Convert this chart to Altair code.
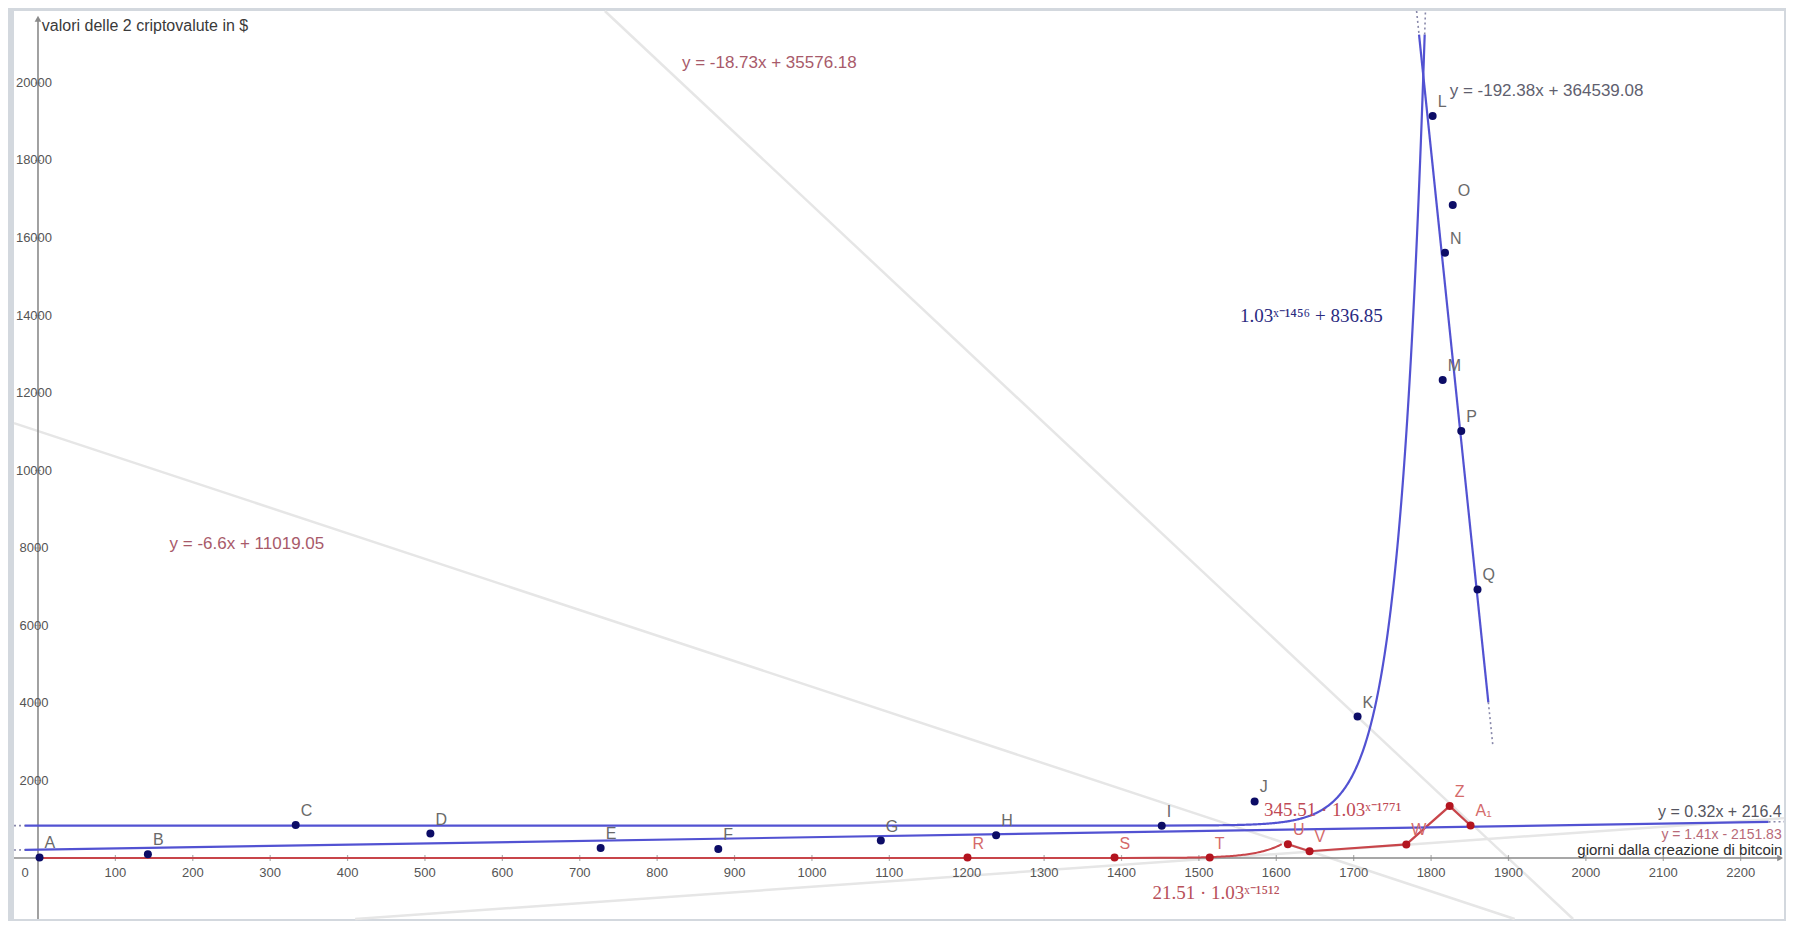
import altair as alt
import numpy as np
import pandas as pd

# ---------------- data ----------------
blue_names = ["A", "B", "C", "D", "E", "F", "G", "H", "I", "J", "K", "L", "M", "N", "O", "P", "Q"]
blue_x = [2, 142, 333, 507, 727, 879, 1089, 1238, 1452, 1572, 1705, 1802, 1815, 1818, 1828, 1839, 1860]
blue_y = [15, 100, 850, 630, 260, 235, 450, 590, 835, 1460, 3650, 19150, 12335, 15620, 16850, 11020, 6930]

red_names = ["R", "S", "T", "U", "V", "W", "Z", "A₁"]
red_x = [1201, 1391, 1514, 1615, 1643, 1768, 1824, 1851]
red_y = [10, 10, 10, 355, 175, 350, 1340, 840]

# regression lines as printed on the chart (slope, intercept)
faint_slope = [-18.73, -6.6, 1.41]
faint_icept = [35576.18, 11019.05, -2151.83]
blue_slope = [0.32, -192.38]
blue_icept = [216.4, 364539.08]
# exponential curves as printed: a * b^(x-h) + k
exp_blue = [1.0, 1.03, 1456, 836.85]
exp_red = [21.51, 1.03, 1512, 0.0]

x_ticks = list(range(100, 2300, 100))
y_ticks = list(range(2000, 22000, 2000))

eq_text = ["y = -18.73x + 35576.18", "y = -6.6x + 11019.05", "y = -192.38x + 364539.08",
           "y = 0.32x + 216.4", "y = 1.41x - 2151.83"]
eq_x = [832, 170, 1824, 2253, 2253]
eq_y = [20516, 8103, 19794, 1190, 600]
eq_align = ["left", "left", "left", "right", "right"]
eq_size = [17, 17, 17, 16, 14]
eq_color = ["#a85a6a", "#a85a6a", "#5f5f6f", "#555560", "#b86a78"]

tex_text = ["1.03ˣ⁻¹⁴⁵⁶ + 836.85", "345.51 · 1.03ˣ⁻¹⁷⁷¹", "21.51 · 1.03ˣ⁻¹⁵¹²"]
tex_x = [1553, 1584, 1440]
tex_y = [13987, 1230, -895]
tex_color = ["#2a2a80", "#c04a55", "#b8505a"]

y_title = "valori delle 2 criptovalute in $"
x_title = "giorni dalla creazione di bitcoin"

# ---------------- view ----------------
X_MIN, X_MAX = -31, 2256
Y_MIN, Y_MAX = -1574, 21858
W, H = 1770, 908
xs = alt.Scale(domain=[X_MIN, X_MAX], nice=False, zero=False)
ys = alt.Scale(domain=[Y_MIN, Y_MAX], nice=False, zero=False)


def X(f="x"):
    return alt.X(f"{f}:Q", scale=xs, axis=None)


def Y(f="y"):
    return alt.Y(f"{f}:Q", scale=ys, axis=None)


def clip_line(m, q, x0=X_MIN, x1=X_MAX):
    pts = []
    for xv in (x0, x1):
        yv = m * xv + q
        if Y_MIN <= yv <= Y_MAX:
            pts.append((xv, yv))
    for yv in (Y_MIN, Y_MAX):
        xv = (yv - q) / m
        if x0 <= xv <= x1:
            pts.append((xv, yv))
    pts = sorted(pts)
    return pts[0], pts[-1]


rows = []
for m, q in zip(faint_slope, faint_icept):
    (a, b), (c, d) = clip_line(m, q)
    rows.append(dict(x=a, y=b, x2=c, y2=d))
faint_df = pd.DataFrame(rows)

m0, q0 = blue_slope[0], blue_icept[0]
m1, q1 = blue_slope[1], blue_icept[1]
y_dot = 21250
x_top1 = (Y_MAX - q1) / m1
x_dot1 = (y_dot - q1) / m1
blue_solid = pd.DataFrame([
    dict(x=-17, y=m0 * -17 + q0, x2=2236, y2=m0 * 2236 + q0),
    dict(x=x_dot1, y=y_dot, x2=1874, y2=m1 * 1874 + q1),
])
blue_dotted = pd.DataFrame([
    dict(x=X_MIN, y=m0 * X_MIN + q0, x2=-17, y2=m0 * -17 + q0),
    dict(x=2236, y=m0 * 2236 + q0, x2=X_MAX, y2=m0 * X_MAX + q0),
    dict(x=x_top1, y=Y_MAX, x2=x_dot1, y2=y_dot),
    dict(x=1874, y=m1 * 1874 + q1, x2=1880, y2=m1 * 1880 + q1),
])

a, b, h, k = exp_blue
x_dotb = h + np.log((y_dot - k) / a) / np.log(b)
x_topb = h + np.log((Y_MAX - k) / a) / np.log(b)
xb = np.concatenate([np.linspace(-17, 1500, 30), np.linspace(1500, x_dotb, 300)])
exp_b_df = pd.DataFrame(dict(x=xb, y=a * b ** (xb - h) + k, o=np.arange(len(xb))))
exp_b_dot = pd.DataFrame([dict(x=x_dotb, y=y_dot, x2=x_topb, y2=Y_MAX),
                          dict(x=X_MIN, y=k, x2=-17, y2=k)])

a, b, h, k = exp_red
xr = np.concatenate([np.linspace(0, 1450, 30), np.linspace(1450, 1607, 80)])
exp_r_df = pd.DataFrame(dict(x=xr, y=a * b ** (xr - h) + k, o=np.arange(len(xr))))

blue_df = pd.DataFrame(dict(name=blue_names, x=blue_x, y=blue_y))
red_df = pd.DataFrame(dict(name=red_names, x=red_x, y=red_y, o=range(len(red_x))))
red_poly = red_df[red_df["name"].isin(["U", "V", "W", "Z", "A₁"])]

# ---------------- layers ----------------
AXC = "#8a8a8a"
SANS = "Liberation Sans"

faint = alt.Chart(faint_df).mark_rule(color="#e6e6e6", strokeWidth=2.5).encode(
    x=X(), y=Y(), x2="x2:Q", y2="y2:Q")

axes = alt.Chart(pd.DataFrame([
    dict(x=X_MIN, y=0, x2=X_MAX - 4, y2=0),
    dict(x=0, y=Y_MIN, x2=0, y2=Y_MAX - 200),
])).mark_rule(color=AXC, strokeWidth=1.6).encode(x=X(), y=Y(), x2="x2:Q", y2="y2:Q")

arrows = alt.Chart(pd.DataFrame([
    dict(x=X_MAX - 5, y=0, s="triangle-right"),
    dict(x=0, y=Y_MAX - 200, s="triangle-up"),
])).mark_point(filled=True, color=AXC, size=45, opacity=1).encode(
    x=X(), y=Y(), shape=alt.Shape("s:N", scale=None))

xtk = alt.Chart(pd.DataFrame(dict(x=x_ticks, y=0))).mark_tick(
    orient="vertical", size=6, thickness=1.2, color=AXC).encode(x=X(), y=Y())
ytk = alt.Chart(pd.DataFrame(dict(x=0, y=y_ticks))).mark_tick(
    orient="horizontal", size=6, thickness=1.2, color=AXC).encode(x=X(), y=Y())

xlab = alt.Chart(pd.DataFrame(dict(x=x_ticks, y=0, t=[str(v) for v in x_ticks]))).mark_text(
    font=SANS, fontSize=13, color="#555", dy=15, baseline="middle").encode(
    x=X(), y=Y(), text="t:N")
ylab = alt.Chart(pd.DataFrame(dict(x=0, y=y_ticks, t=[str(v) for v in y_ticks]))).mark_text(
    font=SANS, fontSize=13, color="#555", dx=-4, baseline="middle").encode(
    x=X(), y=Y(), text="t:N")
zlab = alt.Chart(pd.DataFrame(dict(x=[0], y=[0], t=["0"]))).mark_text(
    font=SANS, fontSize=13, color="#555", dx=-13, dy=15, baseline="middle").encode(
    x=X(), y=Y(), text="t:N")

ytitle = alt.Chart(pd.DataFrame(dict(x=[5], y=[21470], t=[y_title]))).mark_text(
    font=SANS, fontSize=16, baseline="middle", align="left", color="#3a3a3a").encode(
    x=X(), y=Y(), text="t:N")
xtitle = alt.Chart(pd.DataFrame(dict(x=[X_MAX - 2], y=[215], t=[x_title]))).mark_text(
    font=SANS, fontSize=15, baseline="middle", align="right", color="#2e2e2e").encode(
    x=X(), y=Y(), text="t:N")

red_exp = alt.Chart(exp_r_df).mark_line(color="#c8454a", strokeWidth=2).encode(
    x=X(), y=Y(), order="o:Q")
red_line = alt.Chart(red_poly).mark_line(color="#c8454a", strokeWidth=2.2).encode(
    x=X(), y=Y(), order="o:Q")

BL = "#5252d2"
blue_exp = alt.Chart(exp_b_df).mark_line(color=BL, strokeWidth=2.2).encode(
    x=X(), y=Y(), order="o:Q")
blue_lines = alt.Chart(blue_solid).mark_rule(color=BL, strokeWidth=2.2).encode(
    x=X(), y=Y(), x2="x2:Q", y2="y2:Q")
dots = alt.Chart(pd.concat([blue_dotted, exp_b_dot])).mark_rule(
    color="#8888aa", strokeWidth=1.6, strokeDash=[2, 3]).encode(
    x=X(), y=Y(), x2="x2:Q", y2="y2:Q")

bpts = alt.Chart(blue_df).mark_circle(color="#0c0c66", size=64, opacity=1).encode(x=X(), y=Y())
rpts = alt.Chart(red_df).mark_circle(color="#b3141f", size=64, opacity=1).encode(x=X(), y=Y())
blab = alt.Chart(blue_df).mark_text(font=SANS, fontSize=16, color="#6a6a6a",
                                    align="left", dx=5, dy=-14, baseline="middle").encode(
    x=X(), y=Y(), text="name:N")
rlab = alt.Chart(red_df).mark_text(font=SANS, fontSize=16, color="#d46a6a",
                                   align="left", dx=5, dy=-14, baseline="middle").encode(
    x=X(), y=Y(), text="name:N")

eq_df = pd.DataFrame(dict(t=eq_text, x=eq_x, y=eq_y, al=eq_align, c=eq_color, s=eq_size))
eqs_l = alt.Chart(eq_df[eq_df.al == "left"]).mark_text(
    font=SANS, baseline="middle", align="left").encode(
    x=X(), y=Y(), text="t:N", color=alt.Color("c:N", scale=None),
    size=alt.Size("s:Q", scale=None))
eqs_r = alt.Chart(eq_df[eq_df.al == "right"]).mark_text(
    font=SANS, baseline="middle", align="right").encode(
    x=X(), y=Y(), text="t:N", color=alt.Color("c:N", scale=None),
    size=alt.Size("s:Q", scale=None))

tex_df = pd.DataFrame(dict(t=tex_text, x=tex_x, y=tex_y, c=tex_color))
texs = alt.Chart(tex_df).mark_text(font="Liberation Serif", fontSize=19, baseline="middle",
                                   align="left").encode(
    x=X(), y=Y(), text="t:N", color=alt.Color("c:N", scale=None))

chart = alt.layer(
    faint, axes, arrows, xtk, ytk, red_exp, red_line, blue_exp, blue_lines, dots,
    bpts, rpts, blab, rlab, eqs_l, eqs_r, texs, xlab, ylab, zlab, ytitle, xtitle,
).properties(
    width=W, height=H,
    padding={"left": 4, "top": 1, "right": 0, "bottom": 0},
    background="#d3d8de",
).configure_view(stroke=None, fill="white")

chart.save("out.html", embed_options={"renderer": "svg", "actions": False})
